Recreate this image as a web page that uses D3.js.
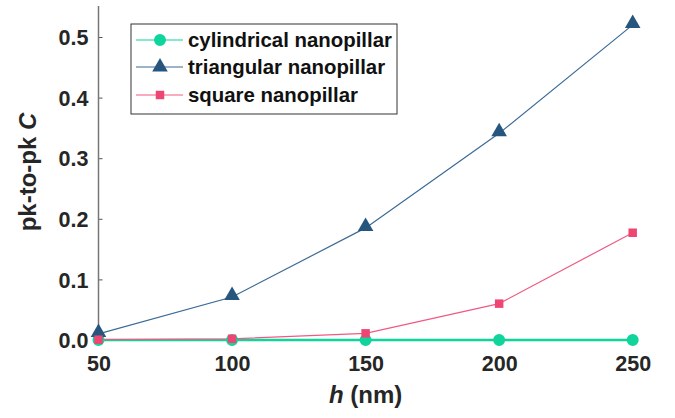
<!DOCTYPE html>
<html>
<head>
<meta charset="utf-8">
<script src="https://cdn.jsdelivr.net/npm/d3@7"></script>
<style>
  html, body { margin: 0; padding: 0; background: #fff; }
  svg text { font-family: "Liberation Sans", Arial, sans-serif; font-weight: bold; }
</style>
</head>
<body>
<svg id="chart" width="675" height="418"></svg>
<script>
// Pillar height (nm)
const heights = [50, 100, 150, 200, 250];
// Peak-to-peak C for each nanopillar shape
const cylindrical = [0.0, 0.0, 0.0, 0.0, 0.0];
const triangular = [0.010, 0.071, 0.185, 0.341, 0.520];
const square = [0.0005, 0.002, 0.011, 0.060, 0.177];

const seriesNames = ["cylindrical nanopillar", "triangular nanopillar", "square nanopillar"];
const xTicks = [50, 100, 150, 200, 250];
const yTicks = [0, 0.1, 0.2, 0.3, 0.4, 0.5];

const series = [
  { name: seriesNames[0], values: cylindrical, color: "#0fd49b", lineColor: "#0fd49b", lw: 2.6, symbol: d3.symbolCircle, size: 113 },
  { name: seriesNames[1], values: triangular, color: "#26557e", lineColor: "#3b6a96", lw: 1.2, symbol: d3.symbolTriangle, size: 105 },
  { name: seriesNames[2], values: square, color: "#ee4572", lineColor: "#f05a82", lw: 1.2, symbol: d3.symbolSquare, size: 72 }
];

const svg = d3.select("#chart");
const x = d3.scaleLinear().domain([50, 250]).range([98.5, 632.7]);
const y = d3.scaleLinear().domain([0, 0.5]).range([340, 37]);

// Left axis: inward ticks, line running up to the top of the frame
const yAxis = d3.axisRight(y).tickValues(yTicks).tickSize(4).tickFormat(d3.format(".1f"));
const gy = svg.append("g").attr("transform", `translate(${x(50)},0)`).call(yAxis);
gy.select(".domain").remove();
gy.selectAll(".tick line").attr("stroke", "#555").attr("stroke-width", 1);
gy.selectAll(".tick text")
  .attr("x", -10).attr("dy", "0.36em").attr("text-anchor", "end")
  .attr("fill", "#262626").style("font-size", "21.5px");
svg.append("line")
  .attr("x1", x(50)).attr("x2", x(50)).attr("y1", 6).attr("y2", y(0))
  .attr("stroke", "#777").attr("stroke-width", 1.5);

// Bottom axis: labels only
const xAxis = d3.axisBottom(x).tickValues(xTicks).tickSize(0).tickFormat(d3.format("d"));
const gx = svg.append("g").attr("transform", `translate(0,${y(0)})`).call(xAxis);
gx.select(".domain").remove();
gx.selectAll(".tick line").remove();
gx.selectAll(".tick text")
  .attr("y", 16).attr("dy", "0.71em")
  .attr("fill", "#262626").style("font-size", "21.5px");

// Axis titles
const ylab = svg.append("text")
  .attr("transform", "translate(36,172) rotate(-90)")
  .attr("text-anchor", "middle").attr("fill", "#262626").style("font-size", "24px");
ylab.append("tspan").text("pk-to-pk ");
ylab.append("tspan").attr("font-style", "italic").text("C");

const xlab = svg.append("text")
  .attr("x", x(150)).attr("y", 403)
  .attr("text-anchor", "middle").attr("fill", "#262626").style("font-size", "24px");
xlab.append("tspan").attr("font-style", "italic").text("h");
xlab.append("tspan").text(" (nm)");

// Series lines and markers
const line = d3.line().x((d, i) => x(heights[i])).y(d => y(d));
series.forEach(s => {
  svg.append("path")
    .attr("d", line(s.values))
    .attr("fill", "none").attr("stroke", s.lineColor).attr("stroke-width", s.lw);
});
series.forEach(s => {
  const sym = d3.symbol().type(s.symbol).size(s.size);
  svg.append("g").selectAll("path").data(s.values).join("path")
    .attr("d", sym)
    .attr("transform", (d, i) => `translate(${x(heights[i])},${y(d) - (s.symbol === d3.symbolTriangle ? 1.5 : 0)})`)
    .attr("fill", s.color);
});

// Legend
const legend = svg.append("g");
legend.append("rect")
  .attr("x", 131).attr("y", 24).attr("width", 266).attr("height", 90)
  .attr("fill", "#fff").attr("stroke", "#333").attr("stroke-width", 1);
const rowY = [40, 67, 95];
series.forEach((s, i) => {
  legend.append("line")
    .attr("x1", 136).attr("x2", 183).attr("y1", rowY[i]).attr("y2", rowY[i])
    .attr("stroke", s.lineColor).attr("stroke-width", 1.2);
  legend.append("path")
    .attr("d", d3.symbol().type(s.symbol).size(s.size)())
    .attr("transform", `translate(160,${rowY[i]})`)
    .attr("fill", s.color);
  legend.append("text")
    .attr("x", 188).attr("y", rowY[i]).attr("dy", "0.35em")
    .attr("fill", "#111").style("font-size", "20.4px")
    .text(s.name);
});
</script>
</body>
</html>
